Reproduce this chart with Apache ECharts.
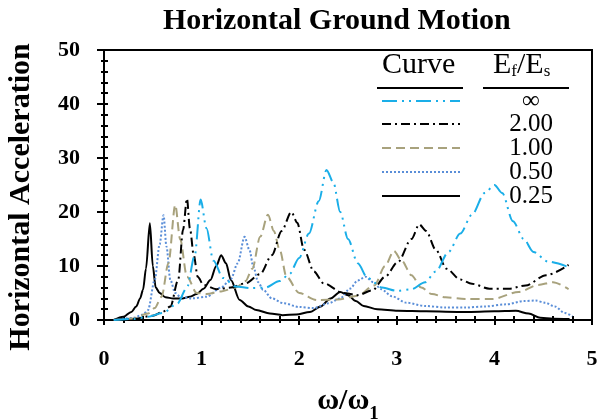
<!DOCTYPE html>
<html><head><meta charset="utf-8">
<script src="https://cdn.jsdelivr.net/npm/echarts@6/dist/echarts.min.js"></script>
<style>html,body{margin:0;padding:0;background:#fff}#c{width:598px;height:419px}</style>
</head><body><div id="c"></div>
<script>
const seriesNames = ['∞', '2.00', '1.00', '0.50', '0.25'];
const xTicks = [0, 1, 2, 3, 4, 5];
const yTicks = [0, 10, 20, 30, 40, 50];

const xInf = [0.1,0.3,0.45,0.6,0.75,0.85,0.93,0.99,1.05,1.12,1.22,1.35,1.5,1.65,1.8,1.9,2.0,2.1,2.2,2.28,2.35,2.42,2.5,2.6,2.7,2.85,3.0,3.15,3.29,3.4,3.53,3.65,3.77,3.9,4.0,4.08,4.19,4.3,4.4,4.55,4.76];
const yInf = [0,0.2,0.6,1.3,3,6,12,22.3,17,11,7.8,6.2,5.9,6,7.2,8.5,11.5,16,22,27.8,25.5,20,15,10.5,7.8,6,5.4,5.7,7,9,12.6,16,19.5,23.5,25,23.5,18.3,15,12.6,10.8,9.8];

const x200 = [0.1,0.3,0.5,0.6,0.68,0.76,0.81,0.85,0.88,0.92,0.96,1.02,1.15,1.3,1.45,1.6,1.72,1.82,1.92,1.98,2.05,2.15,2.25,2.45,2.6,2.75,2.88,3.01,3.15,3.23,3.3,3.4,3.51,3.65,3.77,3.95,4.15,4.32,4.53,4.76];
const y200 = [0,0.2,0.8,1.5,2.5,7.4,16.7,22.5,17,12,8,6.5,5.7,6,6.8,8.5,12,16.5,20,18,13,9,6.8,5,4.6,5.5,8,10.7,15,17.7,16.5,13,9.5,7.5,6.7,5.8,5.8,6.4,8.3,10.2];

const x100 = [0.1,0.3,0.45,0.52,0.59,0.66,0.73,0.78,0.85,0.95,1.05,1.2,1.35,1.45,1.52,1.6,1.68,1.74,1.8,1.87,2.0,2.18,2.4,2.6,2.77,2.88,2.97,3.05,3.15,3.25,3.36,3.5,3.7,3.98,4.25,4.45,4.6,4.76];
const y100 = [0,0.3,1.2,2.2,4.3,10.5,21.3,15,8,5,4.8,5.3,6,7.2,9.5,15.4,19.5,16.5,13,8,5,3.7,3.8,4.5,6.4,10,12.8,11,8.3,6,4.8,4.2,3.9,3.9,5.2,6.5,7,5.7];

const x050 = [0.1,0.3,0.4,0.45,0.52,0.57,0.61,0.64,0.68,0.73,0.78,0.9,1.05,1.2,1.3,1.37,1.44,1.49,1.53,1.58,1.63,1.72,1.84,2.0,2.15,2.3,2.42,2.52,2.6,2.68,2.76,2.84,2.95,3.1,3.29,3.5,3.7,3.9,4.12,4.3,4.42,4.52,4.62,4.72,4.8];
const y050 = [0,0.4,1.0,1.8,7.4,14,19.4,13.6,7.4,5,4.3,4.0,4.3,6,7.6,10.5,15.4,13,9.9,7,5.6,4,3.1,2.4,2.2,3.1,4,5.8,7.3,8,7,5.7,4.4,3.2,2.6,2.3,2.3,2.5,2.9,3.5,3.6,3.2,2.5,1.3,0.7];

const x025 = [0.1,0.2,0.28,0.33,0.37,0.4,0.43,0.47,0.5,0.53,0.57,0.63,0.71,0.8,0.88,0.95,1.02,1.09,1.15,1.2,1.25,1.3,1.39,1.48,1.56,1.7,1.83,1.97,2.11,2.22,2.32,2.42,2.5,2.58,2.66,2.8,3.01,3.3,3.7,4.0,4.22,4.35,4.47,4.6,4.77];
const y025 = [0,0.6,1.5,2.5,4,5.6,9.5,17.9,10,6,5,4.2,4,4,4.3,4.8,5.8,7.4,10,12,10.5,7.4,3.7,2.5,1.85,1.2,0.9,1,1.5,2.5,4,5.2,4.6,3.5,2.6,2,1.7,1.6,1.5,1.6,1.7,1.2,0.4,0.25,0.2];

const colors = ['#1aaee8', '#000000', '#a8a27d', '#5a8ed8', '#000000'];
const dashes = [[15,5,2,5,2,5], [9,4,2,4], [9,5], [2,2], 'solid'];
const xs = [xInf, x200, x100, x050, x025];
const ys = [yInf, y200, y100, y050, y025];

const FONT = 'Liberation Serif';
const pairs = (a, b) => a.map((v, i) => [v, b[i]]);

const series = seriesNames.map((n, i) => ({
  name: n, type: 'line', xAxisIndex: 0, yAxisIndex: 0,
  data: pairs(xs[i], ys[i]), showSymbol: false, smooth: 0.3, smoothMonotone: 'x',
  lineStyle: { color: colors[i], width: 2, type: dashes[i] }, z: 5 - i
}));

// legend table (graphic)
const legendRowsY = [101, 124, 148, 172, 196];
const graphic = [
  { type: 'text', left: 382, top: 50, style: { text: 'Curve', font: '30px "' + FONT + '"', fill: '#000' } },
  { type: 'text', left: 493, top: 50, style: { text: '{a|E}{b|f}{a|/E}{b|s}', fill: '#000',
      rich: { a: { fontFamily: FONT, fontSize: 30, verticalAlign: 'bottom' , lineHeight: 34},
              b: { fontFamily: FONT, fontSize: 17, verticalAlign: 'bottom', lineHeight: 28 } } } },
  { type: 'line', shape: { x1: 377, y1: 88, x2: 463, y2: 88 }, style: { stroke: '#000', lineWidth: 2 } },
  { type: 'line', shape: { x1: 483, y1: 88, x2: 569, y2: 88 }, style: { stroke: '#000', lineWidth: 2 } }
];
seriesNames.forEach((n, i) => {
  graphic.push({ type: 'line', shape: { x1: 382, y1: legendRowsY[i], x2: 460, y2: legendRowsY[i] },
    style: { stroke: colors[i], lineWidth: 2, lineDash: dashes[i] === 'solid' ? null : dashes[i] } });
  graphic.push({ type: 'text', x: 531, y: legendRowsY[i], style: { text: n, font: '25px "' + FONT + '"', fill: '#000', align: 'center', verticalAlign: 'middle' } });
});

const axisCommon = {
  type: 'value', min: 0,
  splitLine: { show: false },
};
const option = {
  animation: false,
  backgroundColor: '#fff',
  title: { text: 'Horizontal Ground Motion', left: 158, top: 1,
    textStyle: { fontFamily: FONT, fontSize: 30, fontWeight: 'bold', color: '#000' } },
  grid: { left: 104, right: 6, top: 50, bottom: 99, show: true, borderColor: '#000', borderWidth: 2,
    containLabel: false, outerBoundsMode: 'none' },
  xAxis: [
    Object.assign({}, axisCommon, { max: 5, interval: 1, position: 'bottom',
      name: '{a|ω/ω}{s|1}', nameLocation: 'middle', nameGap: 62,
      nameTextStyle: { rich: { a: { fontFamily: FONT, fontSize: 30, fontWeight: 'bold', color: '#000', verticalAlign: 'bottom', lineHeight: 34 },
                               s: { fontFamily: FONT, fontSize: 19, fontWeight: 'bold', color: '#000', verticalAlign: 'bottom', lineHeight: 22, padding: [0,0,-8,0] } } },
      axisLine: { show: true, onZero: false, lineStyle: { color: '#000', width: 2 } },
      axisTick: { show: true, length: 5, lineStyle: { color: '#000', width: 2 } },
      minorTick: { show: true, splitNumber: 5, length: 3, lineStyle: { color: '#000', width: 2 } },
      axisLabel: { margin: 28, fontFamily: FONT, fontSize: 22, fontWeight: 'bold', color: '#000',
        formatter: v => xTicks.includes(v) ? String(v) : '' } }),
    Object.assign({}, axisCommon, { max: 5, interval: 1, position: 'bottom',
      axisLine: { show: false },
      axisTick: { show: true, inside: true, length: 4, lineStyle: { color: '#000', width: 2 } },
      minorTick: { show: true, splitNumber: 5, length: 4, lineStyle: { color: '#000', width: 2 } },
      axisLabel: { show: false } })
  ],
  yAxis: [
    Object.assign({}, axisCommon, { max: 50, interval: 10, position: 'left',
      name: 'Horizontal Acceleration', nameLocation: 'middle', nameGap: 68, nameRotate: 90,
      nameTextStyle: { fontFamily: FONT, fontSize: 30, fontWeight: 'bold', color: '#000', padding: [0, 24, 0, 0] },
      axisLine: { show: true, onZero: false, lineStyle: { color: '#000', width: 2 } },
      axisTick: { show: true, length: 7, lineStyle: { color: '#000', width: 2 } },
      minorTick: { show: true, splitNumber: 5, length: 3, lineStyle: { color: '#000', width: 2 } },
      axisLabel: { margin: 24, fontFamily: FONT, fontSize: 22, fontWeight: 'bold', color: '#000',
        formatter: v => yTicks.includes(v) ? String(v) : '' } }),
    Object.assign({}, axisCommon, { max: 50, interval: 10, position: 'left',
      axisLine: { show: false },
      axisTick: { show: true, inside: true, length: 4, lineStyle: { color: '#000', width: 2 } },
      minorTick: { show: true, splitNumber: 5, length: 4, lineStyle: { color: '#000', width: 2 } },
      axisLabel: { show: false } })
  ],
  series: series,
  graphic: graphic
};
const chart = echarts.init(document.getElementById('c'), null, { renderer: 'canvas' });
chart.setOption(option);
</script>
</body></html>
